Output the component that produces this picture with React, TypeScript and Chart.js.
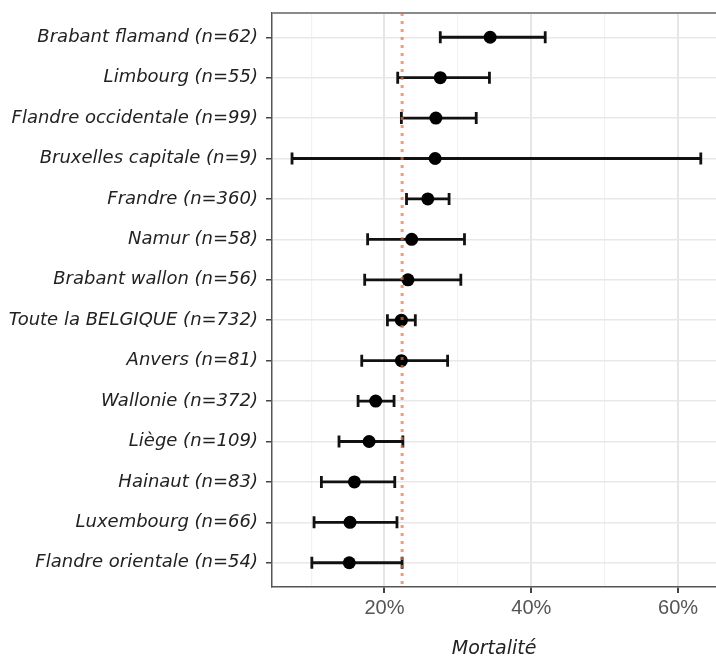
import React, { useEffect, useRef } from 'react';
import { Chart, registerables } from 'chart.js';

Chart.register(...registerables);

const regions = [
  'Brabant flamand (n=62)',
  'Limbourg (n=55)',
  'Flandre occidentale (n=99)',
  'Bruxelles capitale (n=9)',
  'Frandre (n=360)',
  'Namur (n=58)',
  'Brabant wallon (n=56)',
  'Toute la BELGIQUE (n=732)',
  'Anvers (n=81)',
  'Wallonie (n=372)',
  'Liège (n=109)',
  'Hainaut (n=83)',
  'Luxembourg (n=66)',
  'Flandre orientale (n=54)',
];
const mortality = [34.4, 27.6, 27.0, 26.9, 25.9, 23.7, 23.2, 22.3, 22.3, 18.8, 17.9, 15.9, 15.3, 15.2];
const lower = [27.6, 21.8, 22.3, 7.4, 23.0, 17.7, 17.3, 20.4, 16.9, 16.4, 13.8, 11.4, 10.4, 10.1];
const upper = [41.9, 34.3, 32.5, 63.1, 28.8, 30.9, 30.4, 24.2, 28.6, 21.3, 22.5, 21.4, 21.7, 22.4];
const overall = 22.4;
const xGridTicks = [10, 20, 30, 40, 50, 60];
const xLabelledTicks = [20, 40, 60];
const xMin = 4.67;
const xMax = 65.2;
const yPad = 0.6;

const topBorder = {
  id: 'topBorder',
  afterDraw(chart: any) {
    const { ctx, chartArea } = chart;
    ctx.save();
    ctx.strokeStyle = '#8a8a8a';
    ctx.lineWidth = 2;
    ctx.beginPath();
    ctx.moveTo(chartArea.left, chartArea.top);
    ctx.lineTo(chartArea.right, chartArea.top);
    ctx.stroke();
    ctx.restore();
  },
};

const noPad = (s: any) => {
  s.paddingTop = 0;
  s.paddingBottom = 0;
  s.paddingLeft = 0;
  s.paddingRight = 0;
};

export default function App() {
  const ref = useRef<HTMLCanvasElement | null>(null);

  useEffect(() => {
    document.body.style.margin = '0';
    document.body.style.overflow = 'hidden';
    if (!ref.current) return;

    const errorBars = regions.map((_, i) => ({
      type: 'line' as const,
      data: [
        { x: lower[i], y: i },
        { x: upper[i], y: i },
      ],
      borderColor: '#111',
      borderWidth: 2.8,
      pointStyle: 'line' as const,
      rotation: 90,
      pointRadius: 6,
      pointBorderWidth: 2.8,
      pointBorderColor: '#111',
      pointBackgroundColor: '#111',
      order: 2,
    }));

    const chart = new Chart(ref.current, {
      type: 'scatter',
      data: {
        datasets: [
          {
            type: 'line',
            data: [
              { x: overall, y: -yPad },
              { x: overall, y: regions.length - 1 + yPad },
            ],
            borderColor: 'rgba(245,110,50,0.7)',
            borderDash: [3, 5],
            borderWidth: 3,
            pointRadius: 0,
            order: 0,
          } as any,
          {
            type: 'scatter',
            data: mortality.map((m, i) => ({ x: m, y: i })),
            pointRadius: 6.5,
            backgroundColor: '#000',
            borderColor: '#000',
            borderWidth: 0,
            order: 1,
          } as any,
          ...(errorBars as any[]),
        ],
      },
      options: {
        animation: false,
        responsive: false,
        maintainAspectRatio: false,
        layout: { padding: { top: 13, right: 0, left: 0, bottom: 0 } },
        plugins: { legend: { display: false }, tooltip: { enabled: false } },
        scales: {
          x: {
            type: 'linear',
            min: xMin,
            max: xMax,
            afterBuildTicks: (s: any) => {
              s.ticks = xGridTicks.map((v) => ({ value: v }));
            },
            afterFit: (s: any) => {
              s.height = 75;
              noPad(s);
            },
            ticks: {
              autoSkip: false,
              maxRotation: 0,
              padding: 3,
              color: '#555',
              font: { family: 'Liberation Sans', size: 20 },
              callback: (v: any) => (xLabelledTicks.includes(Number(v)) ? `${v}%` : ''),
            },
            grid: {
              color: (c: any) => (xLabelledTicks.includes(c.tick?.value) ? '#e6e6e6' : '#f2f2f2'),
              lineWidth: (c: any) => (xLabelledTicks.includes(c.tick?.value) ? 2 : 1.2),
              tickColor: (c: any) => (xLabelledTicks.includes(c.tick?.value) ? '#444' : 'rgba(0,0,0,0)'),
              tickLength: 6,
            },
            border: { color: '#555', width: 1.5 },
            title: {
              display: true,
              text: 'Mortalité',
              color: '#222',
              font: { family: 'DejaVu Sans', style: 'italic', size: 19 },
              padding: { top: 0, bottom: 2 },
            },
          },
          y: {
            type: 'linear',
            reverse: true,
            min: -yPad,
            max: regions.length - 1 + yPad,
            afterBuildTicks: (s: any) => {
              s.ticks = regions.map((_, i) => ({ value: i }));
            },
            afterFit: (s: any) => {
              s.width = 272;
              noPad(s);
            },
            ticks: {
              autoSkip: false,
              padding: 8,
              color: '#222',
              font: { family: 'DejaVu Sans', style: 'italic', size: 18 },
              callback: (_v: any, i: number) => regions[i] ?? '',
            },
            grid: {
              color: '#e8e8e8',
              lineWidth: 1.5,
              tickColor: '#444',
              tickLength: 6,
            },
            border: { color: '#555', width: 1.5 },
          },
        },
      },
      plugins: [topBorder],
    });

    return () => chart.destroy();
  }, []);

  return (
    <div style={{ position: 'relative', width: 716, height: 662, overflow: 'hidden' }}>
      <canvas ref={ref} width={725} height={662} />
    </div>
  );
}
